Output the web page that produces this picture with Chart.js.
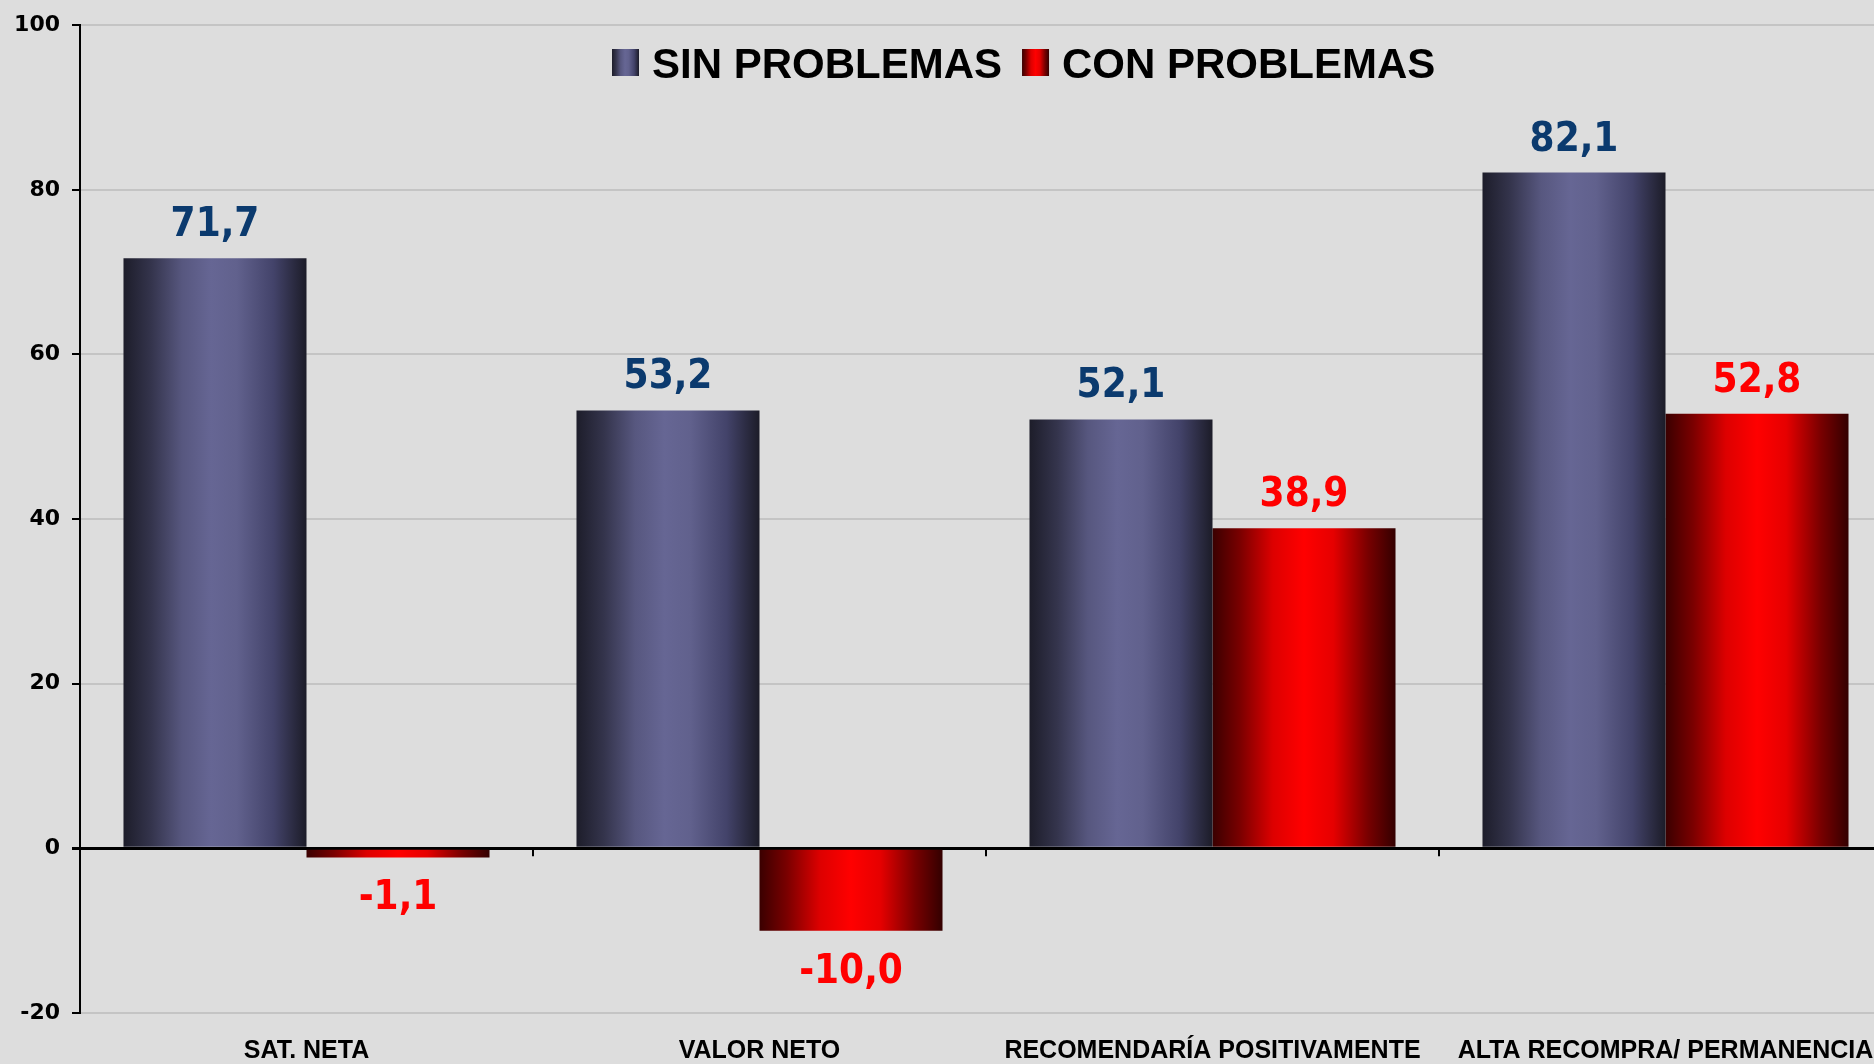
<!DOCTYPE html>
<html>
<head>
<meta charset="utf-8">
<script src="https://cdn.jsdelivr.net/npm/chart.js@4"></script>
<style>
  html, body { margin: 0; padding: 0; background: #dddddd; overflow: hidden; }
  #wrap { position: relative; width: 1900px; height: 1064px; }
</style>
</head>
<body>
<div id="wrap"><canvas id="chart"></canvas></div>
<script>
// Chart data
const categories = ['SAT. NETA', 'VALOR NETO', 'RECOMENDARÍA POSITIVAMENTE', 'ALTA RECOMPRA/ PERMANENCIA'];
const seriesNames = ['SIN PROBLEMAS', 'CON PROBLEMAS'];
const sinProblemas = [71.7, 53.2, 52.1, 82.1];
const conProblemas = [-1.1, -10.0, 38.9, 52.8];
const yTicks = [-20, 0, 20, 40, 60, 80, 100];

// Horizontal shading of the bars (dark edges, light middle)
const BLUE_STOPS = [[0, '#1d1d2a'], [0.15, '#34344c'], [0.32, '#57577f'], [0.48, '#666694'], [0.62, '#61618d'], [0.82, '#43436a'], [1, '#1c1c28']];
const RED_STOPS = [[0, '#3a0000'], [0.15, '#7a0000'], [0.33, '#dd0000'], [0.5, '#ff0000'], [0.66, '#e60000'], [0.85, '#780000'], [1, '#330000']];
const LABEL_COLORS = ['#0b3a6e', '#ff0000'];
const CAT_PCT = 0.808;

function makeGradient(ctx, x0, x1, stops) {
    const g = ctx.createLinearGradient(x0, 0, x1, 0);
    stops.forEach(s => g.addColorStop(s[0], s[1]));
    return g;
}

// Work out where a bar sits on the x scale and shade it across its width
function barFill(context, stops) {
    const chart = context.chart;
    const xs = chart.scales.x;
    if (context.type !== 'data' || !chart.chartArea || !xs) return stops[3][1];
    const catW = xs.width / categories.length;
    const barW = catW * CAT_PCT / 2;
    const left = xs.getPixelForValue(context.dataIndex) - barW + context.datasetIndex * barW;
    return makeGradient(chart.ctx, left, left + barW, stops);
}

function formatValue(v) {
    return v.toFixed(1).replace('.', ',');
}

// Value labels above (or below) each bar
const valueLabels = {
    id: 'valueLabels',
    afterDatasetsDraw(chart) {
        const ctx = chart.ctx;
        ctx.save();
        ctx.font = 'bold 40px "DejaVu Sans Condensed", "DejaVu Sans"';
        ctx.textAlign = 'center';
        ctx.textBaseline = 'alphabetic';
        chart.data.datasets.forEach((ds, di) => {
            chart.getDatasetMeta(di).data.forEach((bar, i) => {
                const v = ds.data[i];
                ctx.fillStyle = LABEL_COLORS[di];
                if (v >= 0) {
                    ctx.fillText(formatValue(v), bar.x, bar.y - 22);
                } else {
                    ctx.fillText(formatValue(v), bar.x, bar.y + 52);
                }
            });
        });
        ctx.restore();
    }
};

// Small tick marks between categories on the zero line
const zeroTicks = {
    id: 'zeroTicks',
    afterDatasetsDraw(chart) {
        const ctx = chart.ctx;
        const xs = chart.scales.x;
        const y0 = chart.scales.y.getPixelForValue(0);
        const catW = xs.width / categories.length;
        ctx.save();
        ctx.strokeStyle = '#000';
        ctx.lineWidth = 2;
        for (let i = 0; i < categories.length - 1; i++) {
            const x = Math.round(xs.getPixelForValue(i) + catW / 2);
            ctx.beginPath();
            ctx.moveTo(x, y0);
            ctx.lineTo(x, y0 + 8);
            ctx.stroke();
        }
        ctx.restore();
    }
};

// Legend drawn inside the plot, near the top
const legendRow = {
    id: 'legendRow',
    afterDraw(chart) {
        const ctx = chart.ctx;
        const boxW = 27, boxH = 27, top = 49, base = 78;
        let x = chart.chartArea.left + 532;
        ctx.save();
        ctx.font = 'bold 42px "Liberation Sans"';
        ctx.textBaseline = 'alphabetic';
        chart.data.datasets.forEach((ds, di) => {
            ctx.fillStyle = makeGradient(ctx, x, x + boxW, di === 0 ? BLUE_STOPS : RED_STOPS);
            ctx.fillRect(x, top, boxW, boxH);
            x += boxW + 13;
            ctx.fillStyle = '#000';
            ctx.fillText(ds.label, x, base);
            x += ctx.measureText(ds.label).width + 20;
        });
        ctx.restore();
    }
};

const ctx = document.getElementById('chart').getContext('2d');
const chart = new Chart(ctx, {
    type: 'bar',
    data: {
        labels: categories,
        datasets: [{
            label: seriesNames[0],
            data: sinProblemas,
            backgroundColor: c => barFill(c, BLUE_STOPS),
            categoryPercentage: CAT_PCT,
            barPercentage: 1,
        }, {
            label: seriesNames[1],
            data: conProblemas,
            backgroundColor: c => barFill(c, RED_STOPS),
            categoryPercentage: CAT_PCT,
            barPercentage: 1,
        }],
    },
    options: {
        responsive: true,
        maintainAspectRatio: false,
        animation: false,
        devicePixelRatio: 1,
        layout: { padding: { top: 22, right: 8, left: 0, bottom: 0 } },
        plugins: {
            legend: { display: false },
            tooltip: { enabled: false },
        },
        scales: {
            x: {
                grid: { display: false, drawTicks: false },
                border: { display: false },
                afterFit(scale) { scale.height = 51; },
                ticks: {
                    font: { family: 'Liberation Sans', weight: 'bold', size: 25 },
                    color: '#000',
                    padding: 23,
                    maxRotation: 0,
                    autoSkip: false,
                },
            },
            y: {
                min: -20,
                max: 100,
                afterBuildTicks(scale) { scale.ticks = yTicks.map(v => ({ value: v })); },
                afterFit(scale) { scale.width = 80; },
                grid: {
                    color: c => (c.tick && c.tick.value === 0) ? '#000' : '#c4c4c4',
                    lineWidth: c => (c.tick && c.tick.value === 0) ? 3 : 2,
                    tickColor: '#000',
                    tickLength: 8,
                },
                border: { display: true, color: '#000', width: 2 },
                ticks: {
                    font: { family: 'DejaVu Sans', weight: 'bold', size: 22 },
                    color: '#000',
                    padding: 12,
                },
            },
        },
    },
    plugins: [zeroTicks, valueLabels, legendRow],
});
</script>
</body>
</html>
